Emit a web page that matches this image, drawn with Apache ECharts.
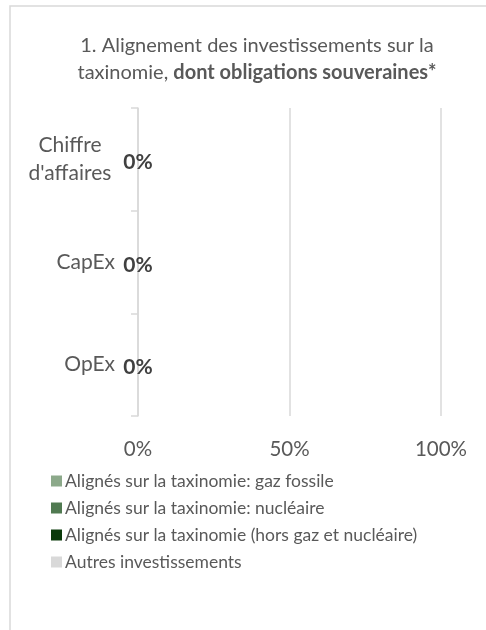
<!DOCTYPE html>
<html>
<head>
<meta charset="utf-8">
<script src="https://cdn.jsdelivr.net/npm/echarts@6/dist/echarts.min.js"></script>
<style>
html,body{margin:0;padding:0;background:#fff;}
#c{width:486px;height:630px;}
</style>
</head>
<body>
<div id="c"></div>
<script>
const categories = ["Chiffre d'affaires", "CapEx", "OpEx"];
const seriesNames = [
  "Alignés sur la taxinomie: gaz fossile",
  "Alignés sur la taxinomie: nucléaire",
  "Alignés sur la taxinomie (hors gaz et nucléaire)",
  "Autres investissements"
];
const gazFossile = [0, 0, 0];
const nucleaire = [0, 0, 0];
const horsGazNucleaire = [0, 0, 0];
const autres = [0, 0, 0];
const xTicks = [0, 50, 100];
const colors = ["#8CA98A", "#507A51", "#0A3A0A", "#D9D9D9"];

const FONT = "Lato, 'Open Sans', sans-serif";
const chart = echarts.init(document.getElementById('c'), null, {renderer: 'canvas'});
const values = [gazFossile, nucleaire, horsGazNucleaire, autres];

const option = {
  backgroundColor: '#ffffff',
  animation: false,
  textStyle: {fontFamily: FONT},
  title: {
    text: '1. Alignement des investissements sur la\ntaxinomie, {b|dont obligations souveraines*}',
    left: 252,
    top: 27,
    textAlign: 'center',
    textStyle: {
      fontFamily: FONT,
      fontSize: 20,
      fontWeight: 'normal',
      color: '#595959',
      lineHeight: 27,
      rich: {
        b: {fontFamily: FONT, fontSize: 20, fontWeight: 'bold', color: '#595959', lineHeight: 27}
      }
    }
  },
  graphic: [{
    type: 'polyline',
    shape: {points: [[10, 630], [10, 6], [486, 6]]},
    style: {stroke: '#D9D9D9', lineWidth: 1.5, fill: null},
    silent: true
  }],
  legend: {
    orient: 'vertical',
    left: 46,
    top: 467,
    itemWidth: 11,
    itemHeight: 11,
    itemGap: 9,
    icon: 'rect',
    textStyle: {fontFamily: FONT, fontSize: 17.5, color: '#595959', padding: [0, 0, 0, -2]},
    data: seriesNames
  },
  grid: {left: 138, right: 45, top: 108, bottom: 214, containLabel: false},
  xAxis: {
    type: 'value',
    min: 0,
    max: 100,
    interval: 50,
    axisLine: {show: false},
    axisTick: {show: false},
    splitLine: {show: true, lineStyle: {color: '#D9D9D9', width: 1.5}},
    axisLabel: {
      margin: 23,
      fontFamily: FONT,
      fontSize: 20.5,
      color: '#595959',
      formatter: v => v + '%'
    }
  },
  yAxis: {
    type: 'category',
    inverse: true,
    data: categories,
    axisLine: {show: true, lineStyle: {color: '#D9D9D9', width: 1.5}},
    axisTick: {show: true, length: 7, lineStyle: {color: '#D9D9D9', width: 1.5}},
    splitLine: {show: false},
    axisLabel: {
      margin: 23,
      fontFamily: FONT,
      fontSize: 21,
      color: '#595959',
      formatter: v => v.indexOf(' ') >= 0 ? v.split(' ').map(s => '{c|' + s + '}').join('\n') : v,
      rich: {
        c: {fontFamily: FONT, fontSize: 21, color: '#595959', width: 90, align: 'center', lineHeight: 28}
      }
    }
  },
  series: seriesNames.map((name, i) => ({
    name: name,
    type: 'bar',
    stack: 'total',
    barWidth: '60%',
    data: values[i],
    itemStyle: {color: colors[i]},
    label: {
      show: i === 2,
      position: 'inside',
      formatter: p => p.value + '%',
      fontFamily: FONT,
      fontSize: 21,
      fontWeight: 'bold',
      color: '#404040',
      offset: [0, 3]
    }
  }))
};
chart.setOption(option);
</script>
</body>
</html>
